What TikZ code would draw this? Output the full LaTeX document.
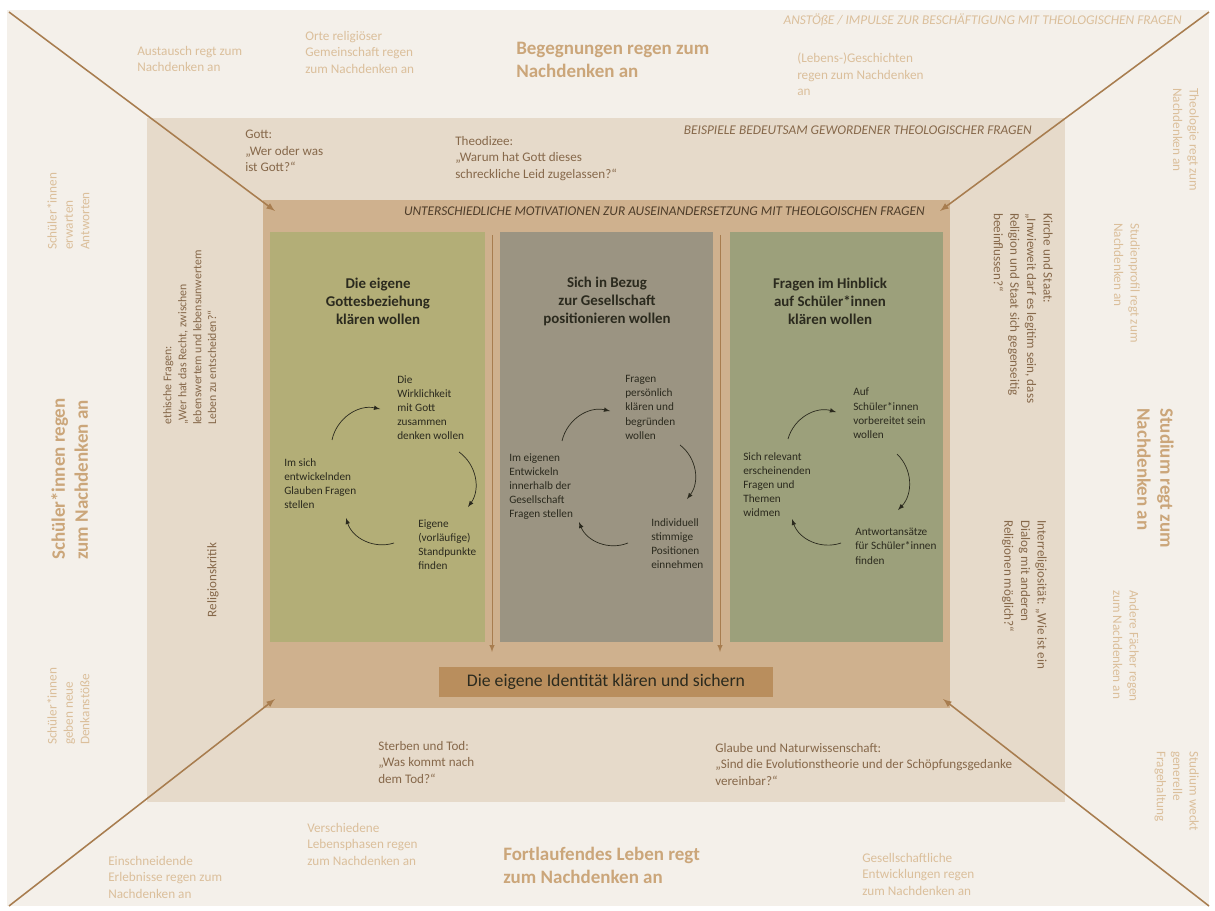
\documentclass[tikz,border=0pt]{standalone}
\usepackage{fontspec}
\setmainfont{Carlito}
\definecolor{outerbg}{HTML}{F4F0EA}
\definecolor{midbg}{HTML}{E6DACA}
\definecolor{innerbg}{HTML}{CFB18E}
\definecolor{colA}{HTML}{B3AE77}
\definecolor{colB}{HTML}{9B9482}
\definecolor{colC}{HTML}{9CA07B}
\definecolor{idbox}{HTML}{B98E5D}
\definecolor{lighttxt}{HTML}{DBBF9B}
\definecolor{boldtxt}{HTML}{CBA67A}
\definecolor{midtxt}{HTML}{86684A}
\definecolor{linebrown}{HTML}{A87D4F}
\definecolor{darktxt}{HTML}{2B2A1E}
\definecolor{darkbrown}{HTML}{4E3D2A}

\begin{document}
\begin{tikzpicture}[x=0.025cm,y=-0.025cm,
  otxt/.style={text=lighttxt,font=\fontsize{9.4}{11.6}\selectfont,align=left,inner sep=0pt,anchor=north west},
  obold/.style={text=boldtxt,font=\fontsize{13.5}{16.4}\selectfont\bfseries,align=left,inner sep=0pt,anchor=north west},
  mtxt/.style={text=midtxt,font=\fontsize{9.3}{11.8}\selectfont,align=left,inner sep=0pt,anchor=north west},
  ctxt/.style={text=darktxt,font=\fontsize{8}{10.1}\selectfont,align=left,inner sep=0pt,anchor=north west},
  chead/.style={text=darktxt,font=\fontsize{10.6}{12.8}\selectfont\bfseries,align=center,inner sep=0pt},
  capline/.style={font=\fontsize{9.5}{10}\selectfont\itshape,inner sep=0pt,anchor=east},
  cyclearrow/.style={->,>=latex,darktxt,line width=0.5pt},
  diagarrow/.style={->,>=latex,linebrown,line width=1.1pt},
  flowdown/.style={->,>=latex,linebrown,line width=0.7pt}]
\useasboundingbox (0,0) rectangle (1215,911);
% bands
\fill[white] (0,0) rectangle (1215,911);
\fill[outerbg] (7,10) rectangle (1209,906);
\fill[midbg] (147,118) rectangle (1065,802);
\fill[innerbg] (263,200) rectangle (950,708);
\fill[colA] (270,232) rectangle (485,642);
\fill[colB] (500,232) rectangle (713,642);
\fill[colC] (730,232) rectangle (943,642);

% corner arrows
\coordinate (cTL) at (9,12);
\coordinate (cTR) at (1209,12);
\coordinate (cBL) at (9,906);
\coordinate (cBR) at (1209,906);
\coordinate (iTL) at (275,211);
\coordinate (iTR) at (940,211);
\coordinate (iBL) at (275,699);
\coordinate (iBR) at (943,699);
\draw[diagarrow] (cTL) -- (iTL);
\draw[diagarrow] (cTR) -- (iTR);
\draw[diagarrow] (cBL) -- (iBL);
\draw[diagarrow] (cBR) -- (iBR);

% headers
\node[capline,text=lighttxt] (impulse) at (1182,20) {ANSTÖßE / IMPULSE ZUR BESCHÄFTIGUNG MIT THEOLOGISCHEN FRAGEN};
\node[capline,text=midtxt] (beispiele) at (1032,130) {BEISPIELE BEDEUTSAM GEWORDENER THEOLOGISCHER FRAGEN};
\node[capline,text=darkbrown] (motiv) at (925,211) {UNTERSCHIEDLICHE MOTIVATIONEN ZUR AUSEINANDERSETZUNG MIT THEOLGOISCHEN FRAGEN};

% top band
\node[otxt] (austausch) at (137,46) {Austausch regt zum\\Nachdenken an};
\node[otxt] (orte) at (305,31) {Orte religiöser\\Gemeinschaft regen\\zum Nachdenken an};
\node[obold] (begegnung) at (516,42) {Begegnungen regen zum\\Nachdenken an};
\node[otxt] (geschichten) at (797,53) {(Lebens-)Geschichten\\regen zum Nachdenken\\an};

% bottom band
\node[otxt] (erlebnisse) at (108,856) {Einschneidende\\Erlebnisse regen zum\\Nachdenken an};
\node[otxt] (phasen) at (307,823) {Verschiedene\\Lebensphasen regen\\zum Nachdenken an};
\node[obold] (leben) at (503,847) {Fortlaufendes Leben regt\\zum Nachdenken an};
\node[otxt] (entwicklung) at (862,853) {Gesellschaftliche\\Entwicklungen regen\\zum Nachdenken an};

% left band
\node[otxt,rotate=90] (erwarten) at (47,250) {Schüler*innen\\erwarten\\Antworten};
\node[obold,rotate=90] (schueler) at (51,560) {Schüler*innen regen\\zum Nachdenken an};
\node[otxt,rotate=90] (denkanstoss) at (47,745) {Schüler*innen\\geben neue\\Denkanstöße};

% right band
\node[otxt,rotate=-90] (theologie) at (1199,88) {Theologie regt zum\\Nachdenken an};
\node[otxt,rotate=-90] (profil) at (1140,223) {Studienprofil regt zum\\Nachdenken an};
\node[obold,rotate=-90] (studium) at (1174,408) {Studium regt zum\\Nachdenken an};
\node[otxt,rotate=-90] (faecher) at (1139,590) {Andere Fächer regen\\zum Nachdenken an};
\node[otxt,rotate=-90] (fragehaltung) at (1199,751) {Studium weckt\\generelle\\Fragehaltung};

% examples
\node[mtxt] (gott) at (245,130) {Gott:\\„Wer oder was\\ist Gott?“};
\node[mtxt] (theodizee) at (455,136) {Theodizee:\\„Warum hat Gott dieses\\schreckliche Leid zugelassen?“};
\node[mtxt,font=\fontsize{8.4}{10.6}\selectfont,rotate=90] (ethik) at (163,425) {ethische Fragen:\\„Wer hat das Recht, zwischen\\lebenswertem und lebensunwertem\\Leben zu entscheiden?“};
\node[mtxt,rotate=90,anchor=center] (kritik) at (213,580) {Religionskritik};
\node[mtxt,rotate=-90] (staat) at (1053,213) {Kirche und Staat:\\„Inwieweit darf es legitim sein, dass\\Religion und Staat sich gegenseitig\\beeinflussen?“};
\node[mtxt,rotate=-90] (dialog) at (1047,520) {Interreligiosität: „Wie ist ein\\Dialog mit anderen\\Religionen möglich?“};
\node[mtxt] (tod) at (378,741) {Sterben und Tod:\\„Was kommt nach\\dem Tod?“};
\node[mtxt] (natur) at (715,743) {Glaube und Naturwissenschaft:\\„Sind die Evolutionstheorie und der Schöpfungsgedanke\\vereinbar?“};

% columns
\node[chead] (headA) at (378,301) {Die eigene\\Gottesbeziehung\\klären wollen};
\node[chead] (headB) at (607,301) {Sich in Bezug\\zur Gesellschaft\\positionieren wollen};
\node[chead] (headC) at (830,301) {Fragen im Hinblick\\auf Schüler*innen\\klären wollen};

\node[ctxt] (A1) at (397,375) {Die\\Wirklichkeit\\mit Gott\\zusammen\\denken wollen};
\node[ctxt] (A2) at (284,458) {Im sich\\entwickelnden\\Glauben Fragen\\stellen};
\node[ctxt] (A3) at (418,519) {Eigene\\(vorläufige)\\Standpunkte\\finden};
\node[ctxt] (B1) at (625,375) {Fragen\\persönlich\\klären und\\begründen\\wollen};
\node[ctxt] (B2) at (509,453) {Im eigenen\\Entwickeln\\innerhalb der\\Gesellschaft\\Fragen stellen};
\node[ctxt] (B3) at (651,518) {Individuell\\stimmige\\Positionen\\einnehmen};
\node[ctxt] (C1) at (853,388) {Auf\\Schüler*innen\\vorbereitet sein\\wollen};
\node[ctxt] (C2) at (743,452) {Sich relevant\\erscheinenden\\Fragen und\\Themen\\widmen};
\node[ctxt] (C3) at (855,528) {Antwortansätze\\für Schüler*innen\\finden};

% cycle arrows
\coordinate (a1s) at (332,440); \coordinate (a1e) at (380,409);
\coordinate (a2s) at (459,452); \coordinate (a2e) at (468,507);
\coordinate (a3s) at (394,543); \coordinate (a3e) at (346,518);
\coordinate (b1s) at (562,441); \coordinate (b1e) at (610,411);
\coordinate (b2s) at (680,445); \coordinate (b2e) at (687,499);
\coordinate (b3s) at (628,543); \coordinate (b3e) at (579,522);
\coordinate (c1s) at (788,439); \coordinate (c1e) at (836,412);
\coordinate (c2s) at (897,454); \coordinate (c2e) at (898,510);
\coordinate (c3s) at (841,543); \coordinate (c3e) at (792,519);
\draw[cyclearrow] (a1s) to[bend left=45] (a1e);
\draw[cyclearrow] (a2s) to[bend left=45] (a2e);
\draw[cyclearrow] (a3s) to[bend left=45] (a3e);
\draw[cyclearrow] (b1s) to[bend left=45] (b1e);
\draw[cyclearrow] (b2s) to[bend left=45] (b2e);
\draw[cyclearrow] (b3s) to[bend left=45] (b3e);
\draw[cyclearrow] (c1s) to[bend left=45] (c1e);
\draw[cyclearrow] (c2s) to[bend left=45] (c2e);
\draw[cyclearrow] (c3s) to[bend left=45] (c3e);

% identity
\node[fill=idbox,minimum width=8.33cm,minimum height=0.75cm,inner sep=0pt,text=darktxt,font=\fontsize{12.6}{14}\selectfont] (ident) at (606,682) {Die eigene Identität klären und sichern};
\coordinate (f1s) at (492,235); \coordinate (f1e) at (492,652);
\coordinate (f2s) at (720,235); \coordinate (f2e) at (720,652);
\draw[flowdown] (f1s) -- (f1e);
\draw[flowdown] (f2s) -- (f2e);
\end{tikzpicture}
\end{document}
